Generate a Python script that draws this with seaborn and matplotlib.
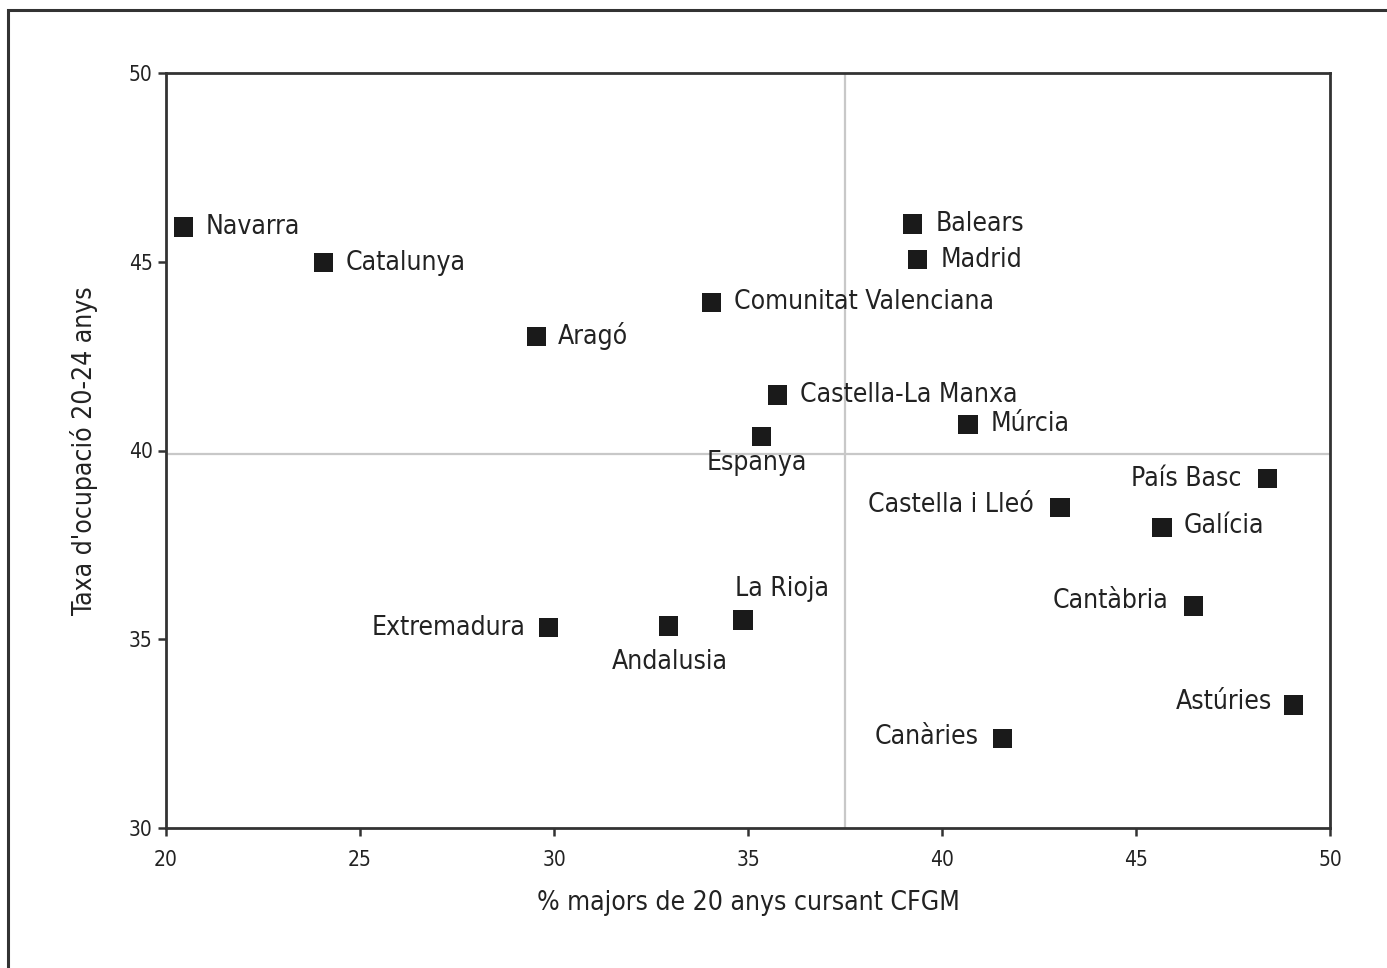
import pandas as pd
import seaborn as sns
import matplotlib.pyplot as plt
import matplotlib.patches as mpatches

# data
regions = ['Navarra', 'Catalunya', 'Aragó', 'Comunitat Valenciana', 'Balears', 'Madrid',
           'Castella-La Manxa', 'Múrcia', 'Espanya', 'País Basc', 'Castella i Lleó',
           'Galícia', 'Cantàbria', 'La Rioja', 'Andalusia', 'Extremadura', 'Astúries', 'Canàries']
pct_cfgm = [20.46, 24.05, 29.54, 34.05, 39.25, 39.36, 35.75, 40.67, 35.34, 48.38, 43.04,
            45.67, 46.49, 34.87, 32.96, 29.85, 49.07, 41.55]
taxa_ocup = [45.92, 44.97, 43.03, 43.93, 46.0, 45.05, 41.47, 40.70, 40.38, 39.25, 38.50,
             37.95, 35.88, 35.51, 35.35, 35.30, 33.26, 32.36]
ref_x = 37.5
ref_y = 39.9

# label placement (offset in pixels, alignment)
label_pos = {
    'Navarra': (22, 0, 'left'), 'Catalunya': (22, 0, 'left'), 'Aragó': (22, 0, 'left'),
    'Comunitat Valenciana': (23, 0, 'left'), 'Balears': (23, 0, 'left'), 'Madrid': (23, 0, 'left'),
    'Castella-La Manxa': (23, 0, 'left'), 'Múrcia': (23, 0, 'left'),
    'Espanya': (-4, -27, 'center'), 'País Basc': (-26, 0, 'right'),
    'Castella i Lleó': (-26, 2, 'right'), 'Galícia': (22, 2, 'left'),
    'Cantàbria': (-25, 5, 'right'), 'La Rioja': (-8, 31, 'left'),
    'Andalusia': (1, -36, 'center'), 'Extremadura': (-23, 0, 'right'),
    'Astúries': (-22, 3, 'right'), 'Canàries': (-24, 2, 'right'),
}

df = pd.DataFrame({'region': regions, 'x': pct_cfgm, 'y': taxa_ocup})

sns.set_style('white')
plt.rcParams['font.family'] = ['DejaVu Sans']
plt.rcParams['font.stretch'] = 'condensed'

fig = plt.figure(figsize=(13.87, 9.68), dpi=100)
ax = fig.add_axes([166 / 1387, 1 - 828 / 968, (1330 - 166) / 1387, (828 - 73) / 968])

# outer frame
fig.patches.append(mpatches.Rectangle((8 / 1387, -0.05), 1.1, 1 - 10 / 968 + 0.05,
                                      transform=fig.transFigure, fill=False,
                                      edgecolor='#333333', linewidth=2.2, clip_on=False))

ax.axvline(ref_x, color='#c8c8c8', linewidth=1.6, zorder=1)
ax.axhline(ref_y, color='#c8c8c8', linewidth=1.6, zorder=1)

sns.scatterplot(data=df, x='x', y='y', marker='s', s=190, color='#1a1a1a',
                edgecolor='none', ax=ax, zorder=3)

for r, x, y in zip(regions, pct_cfgm, taxa_ocup):
    dx, dy, ha = label_pos[r]
    ax.annotate(r, (x, y), xytext=(dx, dy), textcoords='offset pixels',
                ha=ha, va='center', fontsize=19, color='#222222')

ax.set_xlim(20, 50)
ax.set_ylim(30, 50)
ax.set_xticks(range(20, 51, 5))
ax.set_yticks(range(30, 51, 5))
ax.tick_params(axis='both', direction='out', length=6, width=1.8, color='#333333',
               labelsize=15, labelcolor='#222222', left=True, bottom=True)
ax.tick_params(axis='x', pad=10)
for sp in ax.spines.values():
    sp.set_color('#333333')
    sp.set_linewidth(2)
ax.set_xlabel('% majors de 20 anys cursant CFGM', fontsize=19, color='#222222', labelpad=14)
ax.set_ylabel("Taxa d'ocupació 20-24 anys", fontsize=19, color='#222222', labelpad=22)

fig.savefig('out.png', dpi=100)
